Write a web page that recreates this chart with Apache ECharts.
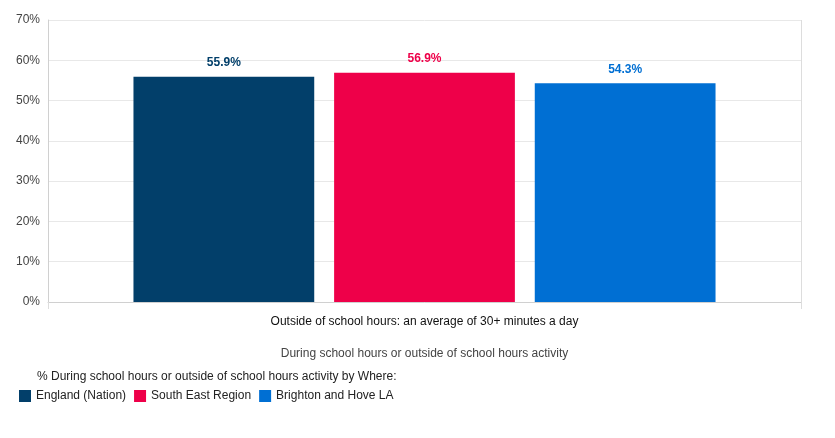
<!DOCTYPE html>
<html>
<head>
<meta charset="utf-8">
<script src="https://cdn.jsdelivr.net/npm/echarts@6/dist/echarts.min.js"></script>
<style>
  html, body { margin: 0; padding: 0; background: #fff; }
  #chart { width: 835px; height: 438px; }
</style>
</head>
<body>
<div id="chart"></div>
<script>
// data
const categories = ['Outside of school hours: an average of 30+ minutes a day'];
const seriesNames = ['England (Nation)', 'South East Region', 'Brighton and Hove LA'];
const seriesValues = [[55.9], [56.9], [54.3]];
const colors = ['#023f6a', '#ee0049', '#006fd3'];
const yTicks = [0, 10, 20, 30, 40, 50, 60, 70];

let myChart = echarts.init(document.getElementById('chart'));

let series = [];
for (let i = 0; i < seriesNames.length; i++) {
    series.push({
        name: seriesNames[i],
        type: 'bar',
        data: seriesValues[i],
        barGap: '11%',
        barCategoryGap: '22.7%',
        itemStyle: { color: colors[i] },
        label: {
            show: true,
            position: 'top',
            distance: 8,
            color: colors[i],
            fontWeight: 'bold',
            fontSize: 12,
            fontFamily: 'Liberation Sans, Arial, sans-serif',
            formatter: p => p.value.toFixed(1) + '%'
        }
    });
}

let option = {
    animation: false,
    textStyle: { fontFamily: 'Liberation Sans, Arial, sans-serif' },
    grid: { left: 48, right: 34, top: 20, bottom: 136, containLabel: false },
    xAxis: {
        type: 'category',
        data: categories,
        name: 'During school hours or outside of school hours activity',
        nameLocation: 'middle',
        nameGap: 46,
        nameTextStyle: { color: '#444', fontSize: 12 },
        axisLine: { lineStyle: { color: '#d0d0d0' } },
        axisTick: { show: true, length: 7, lineStyle: { color: '#ddd' } },
        splitLine: { show: true, lineStyle: { color: '#ddd' } },
        axisLabel: { color: '#111', fontSize: 12, margin: 14 }
    },
    yAxis: {
        type: 'value',
        min: yTicks[0],
        max: yTicks[yTicks.length - 1],
        interval: 10,
        axisLine: { show: true, lineStyle: { color: '#d0d0d0' } },
        axisTick: { show: false },
        splitLine: { lineStyle: { color: '#e8e8e8' } },
        axisLabel: { color: '#444', fontSize: 12, margin: 8, formatter: '{value}%' }
    },
    graphic: [{
        type: 'text',
        left: 37,
        top: 371,
        style: {
            text: '% During school hours or outside of school hours activity by Where:',
            fill: '#222',
            font: '12px Liberation Sans, Arial, sans-serif'
        }
    }],
    legend: {
        left: 14,
        top: 385,
        itemWidth: 12,
        itemHeight: 12,
        itemGap: 8,
        icon: 'rect',
        textStyle: { color: '#222', fontSize: 12 },
        data: seriesNames
    },
    series: series
};
myChart.setOption(option);
</script>
</body>
</html>
